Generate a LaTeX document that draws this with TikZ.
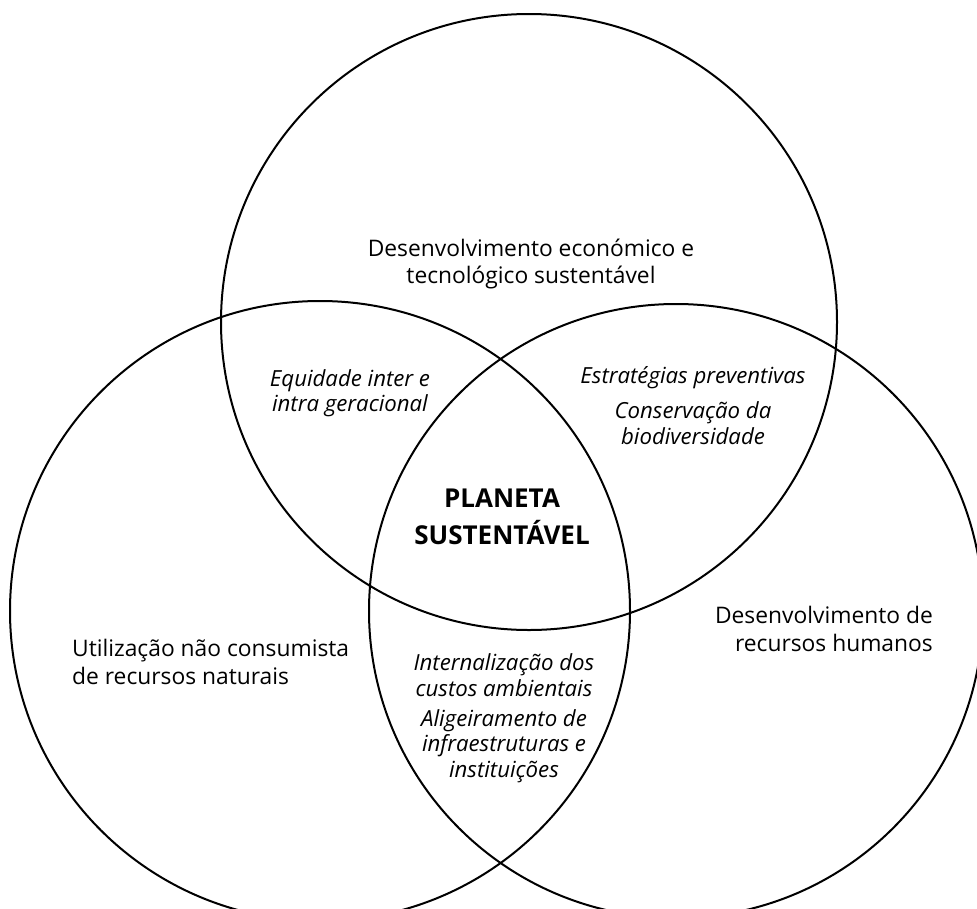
\documentclass[tikz,border=0pt]{standalone}
\usepackage{fontspec}
\setmainfont{Open Sans}
\begin{document}
\begin{tikzpicture}[x=1pt,y=-1pt,
  ring/.style={draw=black,line width=2pt},
  label/.style={inner sep=0pt,font=\fontsize{22.8}{27.5}\selectfont},
  note/.style={inner sep=0pt,align=center,font=\fontsize{22.2}{25.5}\selectfont\itshape},
  core/.style={inner sep=0pt,align=center,font=\fontsize{26}{37}\selectfont\bfseries}]
  \useasboundingbox (0,0) rectangle (977,908);
  \clip (0,0) rectangle (977,908);
  \fill[white] (0,0) rectangle (977,908);

  % the three overlapping spheres
  \draw[ring] (529,322) circle[radius=308];
  \draw[ring] (320,611) circle[radius=310];
  \draw[ring] (676,611) circle[radius=307];

  % sphere titles
  \node[label,align=center] (econ) at (531,264)
    {Desenvolvimento económico e\\tecnológico sustentável};
  \node[label,align=left,anchor=west] (nat) at (72,662)
    {Utilização não consumista\\de recursos naturais};
  \node[label,align=right,anchor=east] (hum) at (933,629)
    {Desenvolvimento de\\recursos humanos};

  % pairwise overlaps
  \node[note] (equi) at (350,393) {Equidade inter e\\intra geracional};
  \node[note] (prev) at (693,378) {Estratégias preventivas};
  \node[note] (bio) at (693,423) {Conservação da\\biodiversidade};
  \node[note] (cost) at (504,675) {Internalização dos\\custos ambientais};
  \node[note] (infra) at (504,746) {Aligeiramento de\\infraestruturas e\\instituições};

  % common centre
  \node[core] (planet) at (502,517) {PLANETA\\SUSTENTÁVEL};
\end{tikzpicture}
\end{document}
